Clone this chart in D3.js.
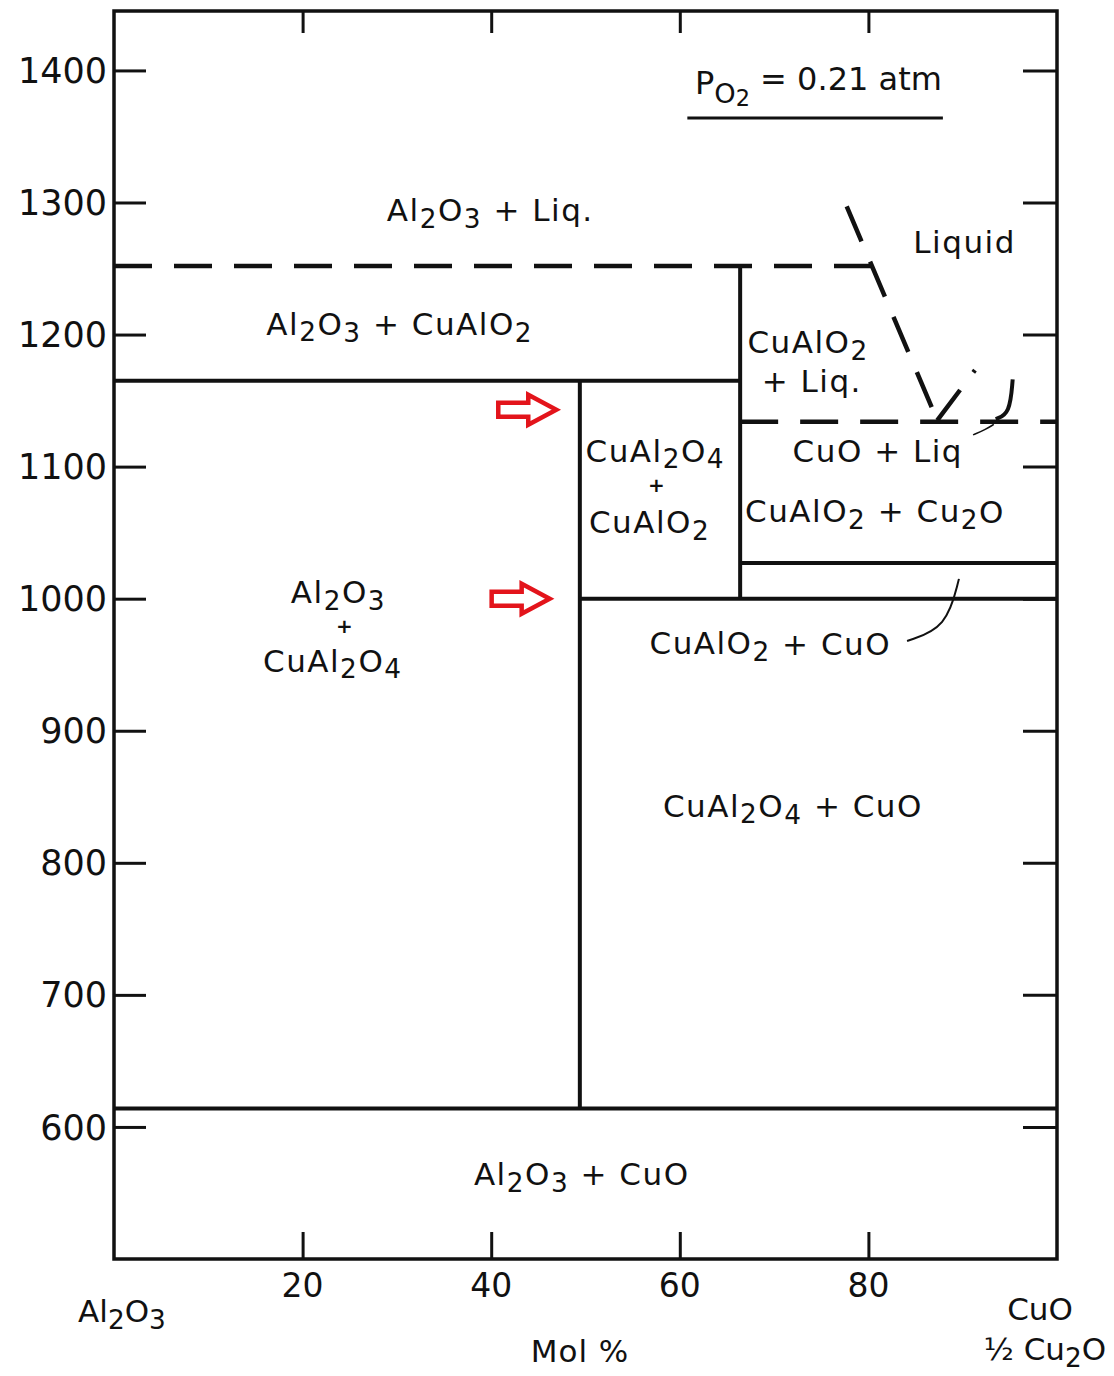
<!DOCTYPE html>
<html>
<head>
<meta charset="utf-8">
<script src="https://cdn.jsdelivr.net/npm/d3@7"></script>
<style>
  body { margin: 0; background: #fff; }
  text { font-family: "DejaVu Sans", sans-serif; fill: #111; }
</style>
</head>
<body>
<div id="chart"></div>
<script>
// Al2O3 - CuO phase diagram at P_O2 = 0.21 atm

// axis ticks
var xTicks = [20, 40, 60, 80]
var yTicks = [600, 700, 800, 900, 1000, 1100, 1200, 1300, 1400]

// phase boundaries [mol% start, T start, mol% end, T end]
var solidLines = [
  [0, 1165, 66.4, 1165],
  [66.4, 1252, 66.4, 1000],
  [49.4, 1165, 49.4, 614],
  [49.4, 1000, 100, 1000],
  [66.4, 1027, 100, 1027],
  [0, 614, 100, 614]
]
var dashedLines = [
  [0, 1252, 80.4, 1252],
  [77.7, 1297, 87.3, 1135],
  [87.3, 1135, 91.3, 1173],
  [66.4, 1134, 100, 1134]
]

// phase field labels [text, mol%, T]   ("_n" = subscript)
var phaseLabels = [
  ["Al_2O_3 + Liq.", 39.9, 1294],
  ["Liquid", 90.2, 1270],
  ["Al_2O_3 + CuAlO_2", 30.3, 1208],
  ["CuAlO_2", 73.6, 1194],
  ["+ Liq.", 74.0, 1165],
  ["CuAl_2O_4", 57.4, 1112],
  ["+", 57.6, 1086],
  ["CuAlO_2", 56.8, 1058],
  ["CuO + Liq", 81.0, 1112],
  ["CuAlO_2 + Cu_2O", 80.7, 1066],
  ["Al_2O_3", 23.8, 1005],
  ["+", 24.5, 979],
  ["CuAl_2O_4", 23.2, 953],
  ["CuAlO_2 + CuO", 69.6, 966],
  ["CuAl_2O_4 + CuO", 72.0, 843],
  ["Al_2O_3 + CuO", 49.6, 564]
]

// red marker arrows [tip mol%, T]
var arrows = [[46.9, 1143], [46.2, 1000]]

var W = 1114, H = 1376
var x = d3.scaleLinear().domain([0, 100]).range([114, 1057])
var y = d3.scaleLinear().domain([500, 1445]).range([1259, 11])

var svg = d3.select("#chart").append("svg")
  .attr("width", W)
  .attr("height", H)

// writes "Al_2O_3" as text with subscript tspans
function addFormula(sel, str){
  var parts = str.split(/(_\d)/)
  var sub = false
  parts.forEach(function(p){
    if (p === "") return
    if (p[0] === "_") {
      sel.append("tspan").attr("dy", "0.25em").attr("font-size", "0.85em").text(p.slice(1))
      sub = true
    } else {
      var t = sel.append("tspan").text(p)
      if (sub) { t.attr("dy", "-0.21em"); sub = false }
    }
  })
}

// frame
svg.append("rect")
  .attr("x", x(0)).attr("y", y(1445))
  .attr("width", x(100) - x(0)).attr("height", y(500) - y(1445))
  .attr("fill", "none").attr("stroke", "#111").attr("stroke-width", 3.5)

// left ticks inward
svg.append("g")
  .attr("transform", "translate(" + x(0) + ",0)")
  .call(d3.axisRight(y).tickValues(yTicks).tickSize(32).tickFormat(""))
  .call(function(g){ g.select(".domain").remove() })
  .selectAll("line").attr("stroke", "#111").attr("stroke-width", 3)

// right ticks inward
svg.append("g")
  .attr("transform", "translate(" + x(100) + ",0)")
  .call(d3.axisLeft(y).tickValues(yTicks).tickSize(34).tickFormat(""))
  .call(function(g){ g.select(".domain").remove() })
  .selectAll("line").attr("stroke", "#111").attr("stroke-width", 3)

// top ticks
svg.append("g")
  .attr("transform", "translate(0," + y(1445) + ")")
  .call(d3.axisBottom(x).tickValues(xTicks).tickSize(22).tickFormat(""))
  .call(function(g){ g.select(".domain").remove() })
  .selectAll("line").attr("stroke", "#111").attr("stroke-width", 3)

// bottom ticks
svg.append("g")
  .attr("transform", "translate(0," + y(500) + ")")
  .call(d3.axisTop(x).tickValues(xTicks).tickSize(27).tickFormat(""))
  .call(function(g){ g.select(".domain").remove() })
  .selectAll("line").attr("stroke", "#111").attr("stroke-width", 3)

// tick labels
svg.selectAll(".ylab").data(yTicks).enter().append("text")
  .attr("x", x(0) - 7).attr("y", function(d){ return y(d) })
  .attr("dy", "0.36em").attr("text-anchor", "end")
  .attr("font-size", 35)
  .text(function(d){ return d })

svg.selectAll(".xlab").data(xTicks).enter().append("text")
  .attr("x", function(d){ return x(d) }).attr("y", 1297)
  .attr("text-anchor", "middle").attr("font-size", 33)
  .text(function(d){ return d })

svg.append("text").attr("x", 122).attr("y", 1322).attr("text-anchor", "middle")
  .attr("font-size", 31).call(addFormula, "Al_2O_3")
svg.append("text").attr("x", 580).attr("y", 1362).attr("text-anchor", "middle")
  .attr("font-size", 31).attr("letter-spacing", 1).text("Mol %")
svg.append("text").attr("x", 1040).attr("y", 1320).attr("text-anchor", "middle")
  .attr("font-size", 31).text("CuO")
svg.append("text").attr("x", 1045).attr("y", 1360).attr("text-anchor", "middle")
  .attr("font-size", 31).call(addFormula, "½ Cu_2O")

// boundaries
svg.selectAll(".solid").data(solidLines).enter().append("line")
  .attr("x1", function(d){ return x(d[0]) }).attr("y1", function(d){ return y(d[1]) })
  .attr("x2", function(d){ return x(d[2]) }).attr("y2", function(d){ return y(d[3]) })
  .attr("stroke", "#111").attr("stroke-width", 4)

svg.selectAll(".dashed").data(dashedLines).enter().append("line")
  .attr("x1", function(d){ return x(d[0]) }).attr("y1", function(d){ return y(d[1]) })
  .attr("x2", function(d){ return x(d[2]) }).attr("y2", function(d){ return y(d[3]) })
  .attr("stroke", "#111").attr("stroke-width", 4.5)
  .attr("stroke-dasharray", "38,22")

// small hook near CuO + Liq and the leader lines
var line = d3.line().curve(d3.curveBasis)
  .x(function(d){ return x(d[0]) }).y(function(d){ return y(d[1]) })
svg.append("path").attr("d", line([[95.3, 1166], [95.0, 1140], [93.5, 1136]]))
  .attr("fill", "none").attr("stroke", "#111").attr("stroke-width", 4)
svg.append("path").attr("d", line([[91.1, 1124], [92.4, 1128], [93.3, 1132]]))
  .attr("fill", "none").attr("stroke", "#111").attr("stroke-width", 1.5)
svg.append("path").attr("d", line([[84.1, 968], [88.3, 978], [89.6, 1015]]))
  .attr("fill", "none").attr("stroke", "#111").attr("stroke-width", 2)

// phase labels (a lone "+" between stacked names is drawn small)
svg.selectAll(".phase").data(phaseLabels).enter().append("text")
  .attr("x", function(d){ return x(d[1]) }).attr("y", function(d){ return y(d[2]) })
  .attr("dy", "0.35em").attr("text-anchor", "middle")
  .attr("font-size", function(d){ return d[0] === "+" ? 20 : 31 })
  .attr("font-weight", function(d){ return d[0] === "+" ? "bold" : "normal" })
  .attr("letter-spacing", 1.5)
  .each(function(d){ addFormula(d3.select(this), d[0]) })

// P_O2 note
var note = svg.append("text").attr("x", x(74.7)).attr("y", y(1391))
  .attr("dy", "0.35em").attr("text-anchor", "middle").attr("font-size", 32)
note.append("tspan").text("P")
note.append("tspan").attr("dy", "0.35em").attr("font-size", "0.85em").text("O")
note.append("tspan").attr("dy", "0.15em").attr("font-size", "0.7em").text("2")
note.append("tspan").attr("dy", "-0.5em").text(" = 0.21 atm")
svg.append("line")
  .attr("x1", x(60.8)).attr("x2", x(87.9))
  .attr("y1", y(1364)).attr("y2", y(1364))
  .attr("stroke", "#111").attr("stroke-width", 3)

// red arrows
svg.selectAll(".arrow").data(arrows).enter().append("path")
  .attr("transform", function(d){ return "translate(" + x(d[0]) + "," + y(d[1]) + ")" })
  .attr("d", "M-58,-7 L-28,-7 L-28,-15 L0,0 L-28,15 L-28,7 L-58,7 Z")
  .attr("fill", "#fff").attr("stroke", "#e3141b").attr("stroke-width", 4.5)
  .attr("stroke-linejoin", "miter")
</script>
</body>
</html>
